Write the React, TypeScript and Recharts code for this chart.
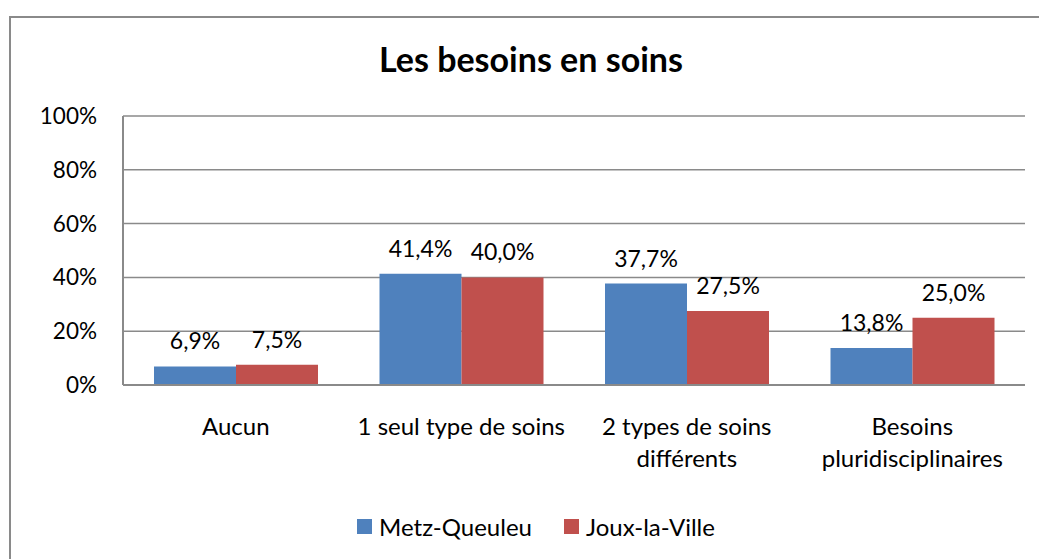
import React from "react";
import { BarChart, Bar, XAxis, YAxis, CartesianGrid, LabelList } from "recharts";

const categories = [
  "Aucun",
  "1 seul type de soins",
  "2 types de soins\ndifférents",
  "Besoins\npluridisciplinaires",
];
const metzQueuleu = [6.9, 41.4, 37.7, 13.8];
const jouxLaVille = [7.5, 40.0, 27.5, 25.0];
const yTicks = [0, 20, 40, 60, 80, 100];

const seriesNames = ["Metz-Queuleu", "Joux-la-Ville"];
const seriesColors = ["#4F81BD", "#C0504D"];

const data = categories.map((name, i) => ({
  name,
  metz: metzQueuleu[i],
  joux: jouxLaVille[i],
}));

const FONT = "Lato, 'Noto Sans', sans-serif";
const fmt = (v: number) => v.toFixed(1).replace(".", ",") + "%";

// multi-line category labels under the x axis
const CategoryTick = (props: any) => {
  const { x, y, payload } = props;
  const lines = String(payload.value).split("\n");
  return (
    <g transform={`translate(${x},${y})`}>
      {lines.map((line, i) => (
        <text
          key={i}
          x={0}
          y={42 + i * 32}
          textAnchor="middle"
          fill="#000"
          fontSize={24}
          fontFamily={FONT}
        >
          {line}
        </text>
      ))}
    </g>
  );
};

export default function App() {
  return (
    <div style={{ position: "absolute", left: 0, top: 0, width: 1039, height: 559, overflow: "hidden", background: "#fff" }}>
      {/* chart frame: only top and left edges are visible in the crop */}
      <div style={{ position: "absolute", left: 9, top: 16, width: 1100, height: 2, background: "#8a8a8a" }} />
      <div style={{ position: "absolute", left: 9, top: 16, width: 2, height: 600, background: "#8a8a8a" }} />
      <div
        style={{
          position: "absolute",
          left: 0,
          width: 1062,
          top: 38,
          textAlign: "center",
          fontFamily: FONT,
          fontWeight: "bold",
          fontSize: 34,
          color: "#000",
          whiteSpace: "nowrap",
        }}
      >
        Les besoins en soins
      </div>
      <div style={{ position: "absolute", left: 0, top: 0 }}>
        <BarChart
          width={1039}
          height={559}
          data={data}
          margin={{ top: 116, right: 14, left: 0, bottom: 74 }}
          barGap={0}
        >
          <CartesianGrid vertical={false} stroke="#8a8a8a" strokeWidth={1.5} />
          <XAxis
            dataKey="name"
            height={100}
            axisLine={{ stroke: "#8a8a8a", strokeWidth: 2 }}
            tickLine={false}
            interval={0}
            tick={<CategoryTick />}
          />
          <YAxis
            width={123}
            domain={[0, 100]}
            ticks={yTicks}
            tickFormatter={(v: number) => `${v}%`}
            axisLine={{ stroke: "#8a8a8a", strokeWidth: 2 }}
            tickLine={false}
            tickSize={0}
            tickMargin={26}
            tick={{ fill: "#000", fontSize: 22.5, fontFamily: FONT }}
          />
          <Bar dataKey="metz" name={seriesNames[0]} fill={seriesColors[0]} barSize={82} isAnimationActive={false}>
            <LabelList dataKey="metz" position="top" offset={17} formatter={fmt} fill="#000" fontSize={23} fontFamily={FONT} />
          </Bar>
          <Bar dataKey="joux" name={seriesNames[1]} fill={seriesColors[1]} barSize={82} isAnimationActive={false}>
            <LabelList dataKey="joux" position="top" offset={17} formatter={fmt} fill="#000" fontSize={23} fontFamily={FONT} />
          </Bar>
        </BarChart>
      </div>
      <div
        style={{
          position: "absolute",
          left: 0,
          width: 1072,
          top: 512,
          display: "flex",
          justifyContent: "center",
          gap: 32,
          fontFamily: FONT,
          fontSize: 24,
          color: "#000",
          whiteSpace: "nowrap",
        }}
      >
        {seriesNames.map((n, i) => (
          <div key={n} style={{ display: "flex", alignItems: "center" }}>
            <span style={{ display: "inline-block", width: 15, height: 15, background: seriesColors[i], marginRight: 7 }} />
            <span>{n}</span>
          </div>
        ))}
      </div>
    </div>
  );
}
